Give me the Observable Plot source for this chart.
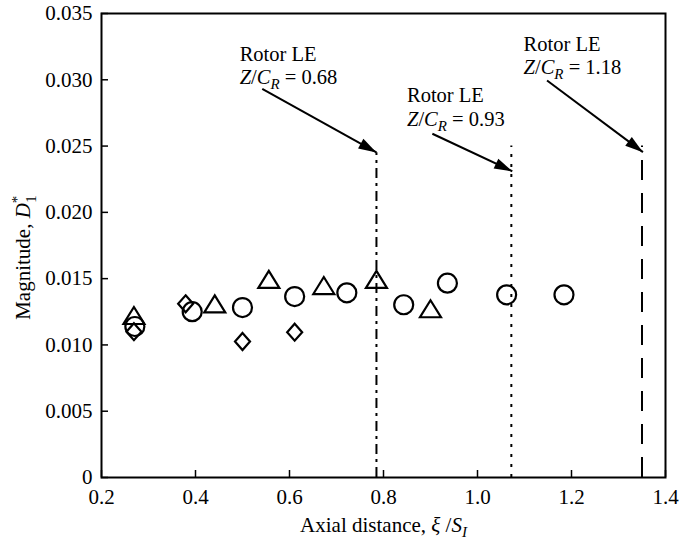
<!DOCTYPE html>
<html><head><meta charset="utf-8">
<script src="https://cdn.jsdelivr.net/npm/d3@7"></script>
<script src="https://cdn.jsdelivr.net/npm/@observablehq/plot@0.6"></script>
<style>body{margin:0;background:#fff} svg{display:block}</style>
</head><body><div id="chart"></div>
<script>
// ---- data ----
const xTicks = [0.2, 0.4, 0.6, 0.8, 1.0, 1.2, 1.4];
const yTicks = [0, 0.005, 0.010, 0.015, 0.020, 0.025, 0.030, 0.035];

const circleX = [0.271, 0.393, 0.500, 0.611, 0.722, 0.843, 0.936, 1.062, 1.184];
const circleY = [0.01139, 0.01251, 0.01282, 0.01365, 0.01393, 0.01303, 0.01466, 0.01378, 0.01378];
const triangleX = [0.269, 0.441, 0.556, 0.673, 0.785, 0.900];
const triangleY = [0.01222, 0.0131, 0.01494, 0.01448, 0.01494, 0.01273];
const diamondX = [0.269, 0.379, 0.500, 0.611];
const diamondY = [0.0110, 0.0131, 0.01026, 0.01096];

// Rotor leading-edge lines
const leX = [0.785, 1.072, 1.350];
const leTop = [0.0245, 0.0250, 0.0250];
const leLabels = ["0.68", "0.93", "1.18"];
// annotation anchors (data units)
const annX = [0.494, 0.850, 1.098];
const annY1 = [0.03145, 0.02831, 0.03220];
const annY2 = [0.02970, 0.02655, 0.03045];
const arrX1 = [0.542, 0.904, 1.148];
const arrY1 = [0.02932, 0.02593, 0.02995];
const arrX2 = [0.785, 1.074, 1.352];
const arrY2 = [0.02452, 0.0231, 0.02454];

const xLabel = "Axial distance";
const yLabel = "Magnitude";

// ---- layout ----
const W = 683, H = 543, mL = 101, mR = 18, mT = 13, mB = 66;
const xDomain = [0.2, 1.4], yDomain = [0, 0.035];
const xs = d3.scaleLinear(xDomain, [mL, W - mR]);
const ys = d3.scaleLinear(yDomain, [H - mB, mT]);
const idx3 = [0, 1, 2];
const angle = i => Math.atan2(ys(arrY2[i]) - ys(arrY1[i]), xs(arrX2[i]) - xs(arrX1[i])) * 180 / Math.PI;

const triSym = {draw(c) { c.moveTo(0, -8.5); c.lineTo(10.5, 8.5); c.lineTo(-10.5, 8.5); c.closePath(); }};
const diaSym = {draw(c) { c.moveTo(0, -8.5); c.lineTo(7.5, 0); c.lineTo(0, 8.5); c.lineTo(-7.5, 0); c.closePath(); }};
const headSym = {draw(c) { c.moveTo(0, 0); c.lineTo(-18, -5.5); c.lineTo(-18, 5.5); c.closePath(); }};
const dashes = ["10,5,3,5", "3,7", "20,13"];

const plotW = W - mL - mR, plotH = H - mT - mB;
const FS = 21, FA = 20.5;

const plot = Plot.plot({
  width: W, height: H,
  marginLeft: mL, marginRight: mR, marginTop: mT, marginBottom: mB,
  style: {fontFamily: "'Liberation Serif', 'Times New Roman', serif", fontSize: FS + "px", color: "black", background: "white", overflow: "visible"},
  x: {domain: xDomain, axis: null},
  y: {domain: yDomain, axis: null},
  marks: [
    Plot.axisX(xTicks, {tickSize: 0, tickPadding: 12, tickFormat: d => d.toFixed(1), label: null, fontSize: FS}),
    Plot.axisY(yTicks, {tickSize: 0, tickPadding: 9, tickFormat: d => d === 0 ? "0" : d.toFixed(3), label: null, fontSize: FS}),
    Plot.tickX(xTicks, {x: d => d, insetTop: plotH - 7, stroke: "black", strokeWidth: 1.5}),
    Plot.tickY(yTicks, {y: d => d, insetRight: plotW - 7, stroke: "black", strokeWidth: 1.5}),
    ...idx3.map(i => Plot.ruleX([i], {x: j => leX[j], y1: 0, y2: j => leTop[j], stroke: "black", strokeWidth: 2, strokeDasharray: dashes[i]})),
    Plot.dot(circleX.map((x, i) => i), {x: i => circleX[i], y: i => circleY[i], r: 9.5, stroke: "black", strokeWidth: 2.2, fill: "none"}),
    Plot.dot(triangleX.map((x, i) => i), {x: i => triangleX[i], y: i => triangleY[i], symbol: triSym, stroke: "black", strokeWidth: 2.2, fill: "none"}),
    Plot.dot(diamondX.map((x, i) => i), {x: i => diamondX[i], y: i => diamondY[i], symbol: diaSym, stroke: "black", strokeWidth: 2.2, fill: "none"}),
    Plot.link(idx3, {x1: i => arrX1[i], y1: i => arrY1[i], x2: i => arrX2[i], y2: i => arrY2[i], stroke: "black", strokeWidth: 2}),
    Plot.dot(idx3, {x: i => arrX2[i], y: i => arrY2[i], symbol: headSym, fill: "black", stroke: "none", rotate: i => angle(i)}),
    Plot.text(idx3, {x: i => annX[i], y: i => annY1[i], text: () => "Rotor LE", textAnchor: "start", lineAnchor: "bottom", fontSize: FA}),
    Plot.text(idx3, {x: i => annX[i], y: i => annY2[i], text: i => "§zc|" + leLabels[i], textAnchor: "start", lineAnchor: "bottom", fontSize: FA}),
    Plot.text([xLabel], {frameAnchor: "bottom", dy: 54, lineAnchor: "bottom", text: d => "§x|" + d, fontSize: FS}),
    Plot.text([yLabel], {frameAnchor: "left", dx: -72, dy: 12, rotate: -90, lineAnchor: "bottom", textAnchor: "middle", text: d => "§y|" + d, fontSize: FS}),
    Plot.frame({stroke: "black", strokeWidth: 2})
  ]
});

function setRich(el, parts) {
  el.text("");
  parts.forEach(p => {
    const ts = el.append("tspan").text(p.t);
    if (p.i) ts.attr("font-style", "italic");
    if (p.fs) ts.attr("font-size", p.fs);
    if (p.dx != null) ts.attr("dx", p.dx);
    if (p.dy != null) ts.attr("dy", p.dy);
  });
}
d3.select(plot).selectAll("text").each(function () {
  const el = d3.select(this);
  const s = el.text();
  if (!s.startsWith("§")) return;
  const [kind, v] = s.slice(1).split("|");
  if (kind === "zc") setRich(el, [
    {t: "Z", i: 1}, {t: "/"}, {t: "C", i: 1}, {t: "R", i: 1, fs: 15, dy: 5}, {t: " = " + v, dy: -5}
  ]);
  else if (kind === "x") setRich(el, [
    {t: v + ", "}, {t: "ξ", i: 1}, {t: " /"}, {t: "S", i: 1}, {t: "I", i: 1, fs: 15, dy: 5}
  ]);
  else if (kind === "y") setRich(el, [
    {t: v + ", "}, {t: "D", i: 1}, {t: "*", fs: 15, dy: -8}, {t: "1", fs: 15, dx: -7, dy: 14}
  ]);
});
document.getElementById("chart").appendChild(plot);
</script>
</body></html>
